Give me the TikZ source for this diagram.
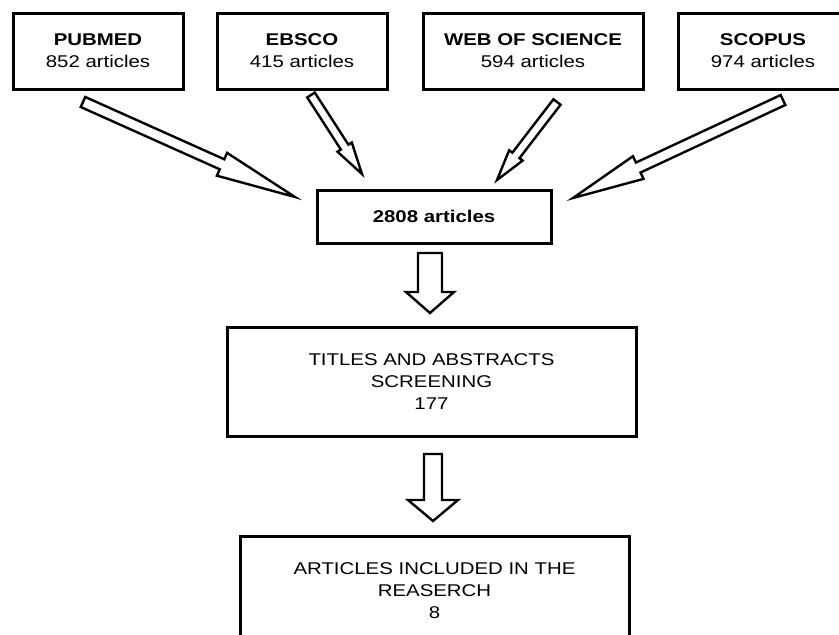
\documentclass[tikz,border=0pt]{standalone}
\usepackage{fontspec}
\setmainfont{Liberation Sans}[FakeStretch=1.2]
\usetikzlibrary{calc}
\tikzset{
  box/.style={draw=black, line width=3pt, fill=white, align=center, inner sep=0pt,
    font=\fontsize{17}{22}\selectfont},
  blk/.style={draw=black, line width=2.4pt, fill=white, line join=miter},
}
\newcommand\blockarr[5]{%
  \coordinate (ba-h) at ($(#2)!#5!(#1)$);
  \draw[blk] ($(#1)!#3!90:(#2)$) -- ($(ba-h)!#3!90:(#2)$) -- ($(ba-h)!#4!90:(#2)$)
    -- (#2) -- ($(ba-h)!#4!-90:(#2)$) -- ($(ba-h)!#3!-90:(#2)$)
    -- ($(#1)!#3!-90:(#2)$) -- cycle;
}
\begin{document}
\begin{tikzpicture}[x=1pt,y=-1pt]
\useasboundingbox (0,0) rectangle (839,635);
\clip (0,0) rectangle (839,635);
\fill[white] (0,0) rectangle (839,635);

\node[box, minimum width=170, minimum height=76] (pubmed) at (98,51) {\textbf{PUBMED}\\852 articles};
\node[box, minimum width=170, minimum height=76] (ebsco) at (302,51) {\textbf{EBSCO}\\415 articles};
\node[box, minimum width=220, minimum height=76] (wos) at (533,51) {\textbf{WEB OF SCIENCE}\\594 articles};
\node[box, minimum width=170, minimum height=76] (scopus) at (763,51) {\textbf{SCOPUS}\\974 articles};

\node[box, minimum width=234, minimum height=53] (total) at (434,216.5) {\textbf{2808 articles}};
\node[box, minimum width=409, minimum height=109] (screen) at (431.5,381.5) {TITLES AND ABSTRACTS\\SCREENING\\177};
\node[box, minimum width=389, minimum height=110] (incl) at (434.5,591) {ARTICLES INCLUDED IN THE\\REASERCH\\8};

\coordinate (pt) at (83,102);   \coordinate (ph) at (295,197);
\coordinate (et) at (311,95);   \coordinate (eh) at (362,174);
\coordinate (wt) at (557,102);  \coordinate (wh) at (497,180);
\coordinate (st) at (783,100);  \coordinate (sh) at (573,198);
\coordinate (v1t) at (430,253); \coordinate (v1h) at (430,313);
\coordinate (v2t) at (433,454); \coordinate (v2h) at (433,521);

\blockarr{pt}{ph}{5.5pt}{12.5pt}{80pt}
\blockarr{et}{eh}{4.5pt}{8.5pt}{32pt}
\blockarr{wt}{wh}{4.5pt}{8.5pt}{31pt}
\blockarr{st}{sh}{5.5pt}{12.5pt}{72pt}
\blockarr{v1t}{v1h}{12pt}{24pt}{21pt}
\blockarr{v2t}{v2h}{9pt}{25pt}{21pt}
\end{tikzpicture}
\end{document}
